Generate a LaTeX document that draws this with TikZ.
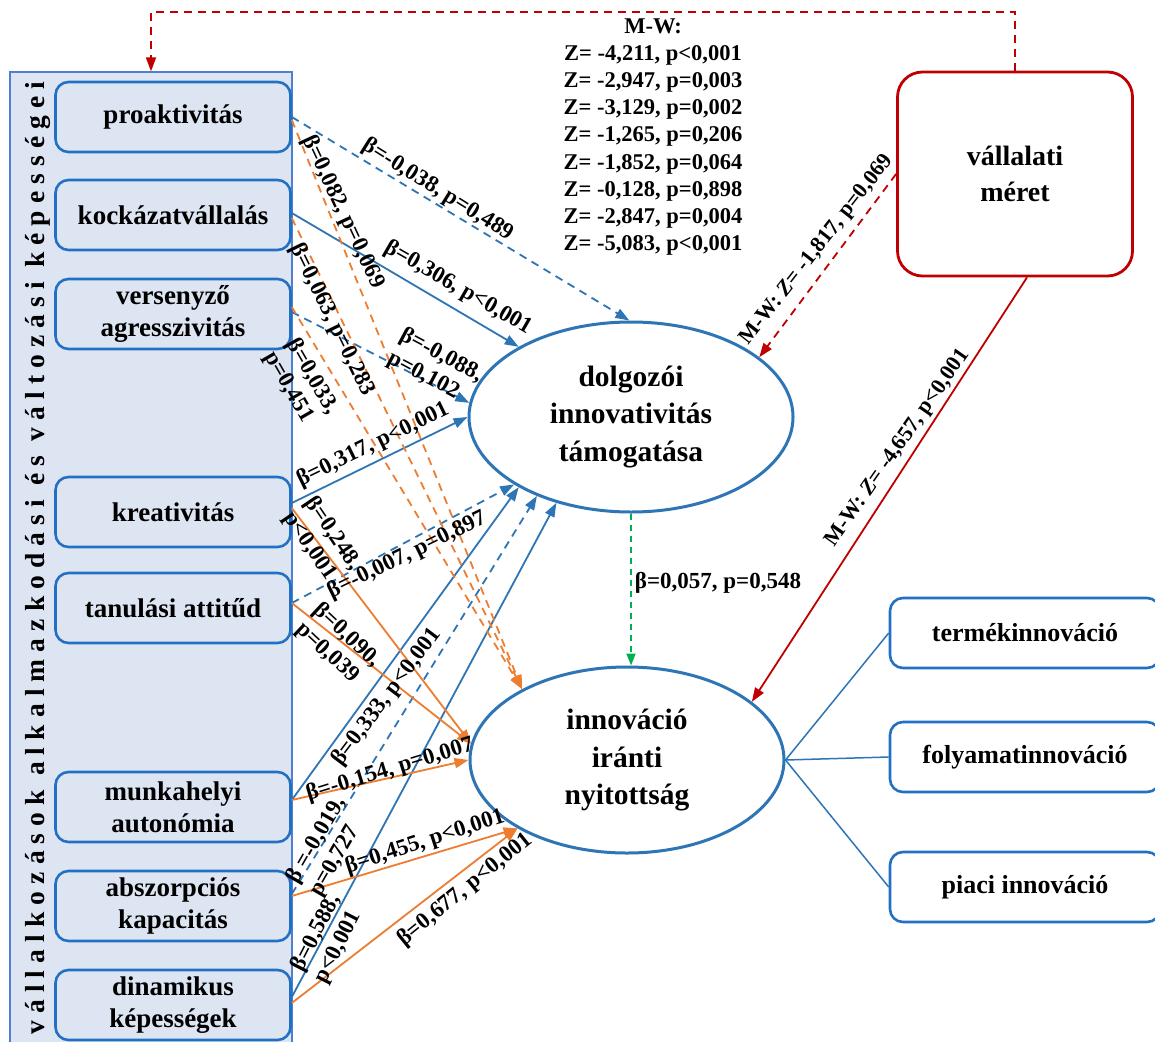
\documentclass[tikz,border=0pt]{standalone}
\usepackage{fontspec}
\setmainfont{Liberation Serif}
\usetikzlibrary{arrows.meta,shapes.geometric}
\definecolor{lineblue}{HTML}{2E75B6}
\definecolor{boxblue}{HTML}{2270C4}
\definecolor{panelfill}{HTML}{DEE5F2}
\definecolor{panelline}{HTML}{4F7FD0}
\definecolor{accorange}{HTML}{ED7D31}
\definecolor{darkred}{HTML}{C00000}
\definecolor{accgreen}{HTML}{00B050}
\begin{document}
\begin{tikzpicture}[x=1pt,y=-1pt,
  tip/.style={-{Triangle[length=14pt,width=10pt]}},
  bsolid/.style={draw=lineblue,line width=1.8pt,tip},
  bdash/.style={bsolid,dash pattern=on 8pt off 6pt},
  osolid/.style={draw=accorange,line width=1.8pt,tip},
  odash/.style={osolid,dash pattern=on 8pt off 6pt},
  capbox/.style={draw=boxblue,line width=2.6pt,rounded corners=13pt,fill=panelfill,
    minimum width=235pt,minimum height=70pt,align=center,inner sep=2pt,
    font=\fontsize{27}{32}\selectfont\bfseries},
  outbox/.style={draw=boxblue,line width=2.6pt,rounded corners=13pt,fill=white,
    minimum width=270pt,minimum height=70pt,align=center,
    font=\fontsize{26}{32}\selectfont\bfseries},
  latent/.style={ellipse,draw=lineblue,line width=3pt,fill=white,align=center,inner sep=0pt,
    font=\fontsize{29.5}{37.5}\selectfont\bfseries},
  lbl/.style={inner sep=0pt,align=left,font=\fontsize{23}{26}\selectfont\bfseries},
  mwlbl/.style={inner sep=0pt,font=\fontsize{22}{26}\selectfont\bfseries},
]
\useasboundingbox (0,0) rectangle (1155,1041);
\clip (0,0) rectangle (1155,1041);
\fill[white] (0,0) rectangle (1155,1041);

% capability panel and its boxes
\node[draw=panelline,line width=1.3pt,fill=panelfill,minimum width=282pt,
  minimum height=1000pt,inner sep=0pt] (panel) at (151,572) {};
\node[rotate=90,anchor=base,inner sep=0pt,
  font=\fontsize{27.5}{30}\selectfont\bfseries\addfontfeature{LetterSpace=26}]
  (paneltitle) at (44,558) {vállalkozások alkalmazkodási és változási képességei};

\node[capbox] (b1) at (173,117) {proaktivitás};
\node[capbox] (b2) at (173,215) {kockázatvállalás};
\node[capbox] (b3) at (173,314) {versenyző\\agresszivitás};
\node[capbox] (b4) at (173,512) {kreativitás};
\node[capbox] (b5) at (173,608) {tanulási attitűd};
\node[capbox] (b6) at (173,807) {munkahelyi\\autonómia};
\node[capbox] (b7) at (173,906) {abszorpciós\\kapacitás};
\node[capbox] (b8) at (173,1005) {dinamikus\\képességek};

% latent constructs
\node[latent,minimum width=324pt,minimum height=190pt] (E1) at (631,417)
  {dolgozói\\innovativitás\\támogatása};
\node[latent,minimum width=314pt,minimum height=186pt] (E2) at (627,760)
  {innováció\\iránti\\nyitottság};

% company size
\node[draw=darkred,line width=2.8pt,rounded corners=25pt,minimum width=235pt,
  minimum height=204pt,align=center,font=\fontsize{28}{36}\selectfont\bfseries]
  (V) at (1015,174) {vállalati\\méret};

% innovation types
\node[outbox] (r1) at (1025,633) {termékinnováció};
\node[outbox] (r2) at (1025,757) {folyamatinnováció};
\node[outbox] (r3) at (1025,887) {piaci innováció};
\foreach \r in {r1,r2,r3} \draw[lineblue,line width=1.5pt] (E2.east) -- (\r.west);

% size effects
\coordinate (topbend) at (151,12);
\draw[darkred,line width=1.8pt,dash pattern=on 8pt off 6pt,tip]
  (V.north) |- (topbend) -- (panel.north);
\draw[darkred,line width=1.8pt,dash pattern=on 8pt off 6pt,tip] (V.west) -- (E1.25);
\draw[darkred,line width=1.8pt,tip] ([xshift=12pt]V.south) -- (E2.25);

% mediator path
\draw[accgreen,line width=1.8pt,dash pattern=on 6pt off 5pt,-{Triangle[length=12pt,width=9pt]}]
  (E1.south) -- (E1.south |- E2.north);

% paths to employee innovativeness support
\draw[bdash]  (b1.east) -- (E1.91);
\draw[bsolid] ([yshift=2pt]b2.east) -- (E1.148);
\draw[bdash]  ([yshift=2pt]b3.east) -- (E1.175);
\draw[bsolid] ([yshift=9pt]b4.east) -- (E1.180);
\draw[bdash]  ([yshift=5pt]b5.east) -- (E1.210);
\draw[bsolid] ([yshift=7pt]b6.east) -- (E1.212);
\draw[bdash]  ([yshift=12pt]b7.east) -- (E1.220);
\draw[bsolid] ([yshift=8pt]b8.east) -- (E1.229);

% paths to openness to innovation
\draw[odash]  ([yshift=-3pt]b1.east) -- (E2.146);
\draw[odash]  ([yshift=-3pt]b2.east) -- (E2.146);
\draw[odash]  ([yshift=7pt]b3.east) -- (E2.146);
\draw[osolid] ([yshift=4pt]b4.east) -- (E2.174);
\draw[osolid] ([yshift=5pt]b5.east) -- (E2.174);
\draw[osolid] ([yshift=7pt]b6.east) -- (E2.180);
\draw[osolid] ([yshift=10pt]b7.east) -- (E2.212);
\draw[osolid] ([yshift=2pt]b8.east) -- (E2.212);

% coefficient labels
\node[lbl,rotate=-32] (l1)  at (438,190) {β=-0,038, p=0,489};
\node[lbl,rotate=-65] (l2)  at (343,212) {β=0,082, p=0,069};
\node[lbl,rotate=-30] (l3)  at (458,288) {β=0,306, p<0,001};
\node[lbl,rotate=-64] (l4)  at (332,320) {β=0,063, p=0,283};
\node[lbl,rotate=-60] (l5)  at (301,383) {β=0,033,\\p=0,451};
\node[lbl,rotate=-28] (l6)  at (435,367) {β=-0,088,\\p=0,102};
\node[lbl,rotate=26]  (l7)  at (373,445) {β=0,317, p<0,001};
\node[lbl,rotate=-56] (l8)  at (322,541) {β=0,248,\\p<0,001};
\node[lbl,rotate=26]  (l9)  at (407,555) {β=-0,007, p=0,897};
\node[lbl,rotate=-43] (l10) at (338,645) {β=0,090,\\p=0,039};
\node[lbl,rotate=53]  (l11) at (387,697) {β=0,333, p<0,001};
\node[lbl,rotate=17]  (l12) at (390,770) {β=-0,154, p=0,007};
\node[lbl,rotate=60]  (l13) at (328,847) {β =-0,019,\\p=0,727};
\node[lbl,rotate=18]  (l14) at (425,842) {β=0,455, p<0,001};
\node[lbl,rotate=63]  (l15) at (328,939) {β=0,588,\\p<0,001};
\node[lbl,rotate=39]  (l16) at (465,890) {β=0,677, p<0,001};
\node[mwlbl,rotate=52] (l17) at (817,250) {M-W: \textit{Z}= -1,817, p=0,069};
\node[mwlbl,rotate=55] (l18) at (898,448) {M-W: \textit{Z}= -4,657, p<0,001};
\node[lbl] (l19) at (718,583) {β=0,057, p=0,548};

% Mann-Whitney results
\node[inner sep=0pt,align=center,font=\fontsize{22.5}{27.2}\selectfont\bfseries]
  (mw) at (653,137) {M-W:\\Z= -4,211, p<0,001\\Z= -2,947, p=0,003\\Z= -3,129, p=0,002\\
  Z= -1,265, p=0,206\\Z= -1,852, p=0,064\\Z= -0,128, p=0,898\\Z= -2,847, p=0,004\\
  Z= -5,083, p<0,001};
\end{tikzpicture}
\end{document}
